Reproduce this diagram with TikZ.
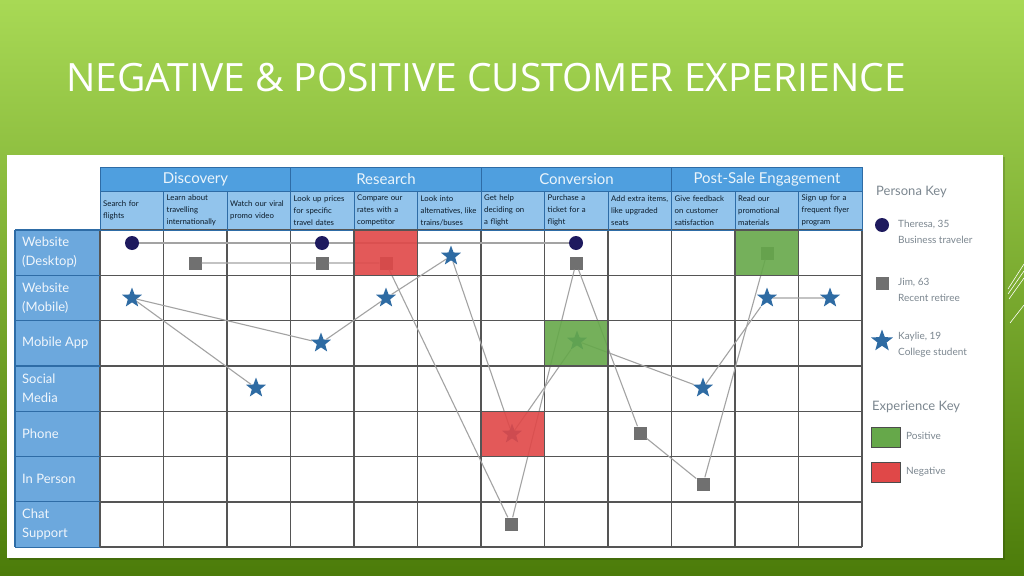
\documentclass[tikz,border=0pt]{standalone}
\usepackage{fontspec}
\setmainfont{Lato}
\newfontfamily\titlefont{Open Sans}
\usetikzlibrary{shapes.geometric}

\definecolor{bgtop}{HTML}{A8D955}
\definecolor{bgbot}{HTML}{4C7C0A}
\definecolor{phaseblue}{HTML}{4F9FDF}
\definecolor{stepblue}{HTML}{92C4EC}
\definecolor{rowblue}{HTML}{6CA8DD}
\definecolor{edgeblue}{HTML}{2E6CA6}
\definecolor{gridgray}{HTML}{555555}
\definecolor{negred}{HTML}{E04848}
\definecolor{posgreen}{HTML}{66A84A}
\definecolor{navy}{HTML}{1E1A5E}
\definecolor{jimgray}{HTML}{707070}
\definecolor{starblue}{HTML}{2E6BA3}
\definecolor{keygray}{HTML}{7C8790}
\definecolor{trailgray}{HTML}{A3A3A3}

\begin{document}
\begin{tikzpicture}[
  x=1pt, y=-1pt,
  font=\fontsize{8}{10}\selectfont,
  % ---- Header styles ----
  phase/.style={font=\fontsize{15}{15}\selectfont, text=white!88!phaseblue, inner sep=0},
  stepcell/.style={anchor=west, align=left, text width=60pt, inner sep=0,
                   font=\fontsize{7.8}{12}\selectfont, text=black!75!edgeblue},
  chan/.style={anchor=west, align=left, inner sep=0,
               font=\fontsize{13}{19}\selectfont, text=white!90!rowblue},
  % ---- Persona markers ----
  theresa/.style={circle, fill=navy, minimum size=14pt, inner sep=0},
  jim/.style={rectangle, fill=jimgray, minimum size=13pt, inner sep=0},
  kaylie/.style={star, star points=5, star point ratio=2.4, fill=starblue,
                 minimum size=21pt, inner sep=0},
  % ---- Lines ----
  trail/.style={draw=trailgray, line width=1.1pt},
  gridline/.style={draw=gridgray, line width=1.4pt},
  % ---- Experience overlays ----
  badcell/.style={fill=negred, fill opacity=0.9, draw=gridgray, line width=1.4pt},
  goodcell/.style={fill=posgreen, fill opacity=0.9, draw=gridgray, line width=1.4pt},
  % ---- Key ----
  keyhead/.style={anchor=west, inner sep=0, text=keygray, font=\fontsize{13}{13}\selectfont},
  keytext/.style={anchor=west, align=left, inner sep=0, text=keygray,
                  font=\fontsize{10}{16}\selectfont}
]

% ===== Slide background =====
\shade[top color=bgtop, bottom color=bgbot] (0,0) rectangle (1024,575);
\useasboundingbox (0,0) rectangle (1024,575);
\draw[white, line width=0.6pt] (1008,289) -- (1024,264);
\draw[white, line width=0.6pt] (1008,294) -- (1024,271);
\draw[white, line width=0.6pt] (1009,299) -- (1024,278);
\draw[white, line width=0.6pt] (1010,323) -- (1024,305);

\node[anchor=base west, inner sep=0, text=white, font=\titlefont\fontsize{39}{39}\selectfont]
  (title) at (66,92) {NEGATIVE \& POSITIVE CUSTOMER EXPERIENCE};

% ===== White panel =====
\fill[black, opacity=0.15] (9,157) rectangle (1005,560);
\fill[white] (7,155) rectangle (1003,558);

% ===== Table header and channel column =====
\fill[phaseblue] (100,167) rectangle (862,191);
\fill[stepblue] (100,191) rectangle (862,230);
\fill[rowblue] (15,230) rectangle (100,547);

% grid (columns 63.5 wide, rows 45.3 high)
\foreach \i in {0,...,12}
  \draw[gridline] ({100+63.5*\i},230) -- ({100+63.5*\i},547);
\foreach \j in {0,...,7}
  \draw[gridline] (100,{230+45.3*\j}) -- (862,{230+45.3*\j});
\foreach \j in {0,...,7}
  \draw[edgeblue, line width=1.2pt] (15,{230+45.3*\j}) -- (100,{230+45.3*\j});
\draw[edgeblue, line width=1.2pt] (15,230) -- (15,547);

\draw[edgeblue, line width=1pt] (100,167) rectangle (862,230);
\draw[edgeblue, line width=1pt] (100,191) -- (862,191);
\foreach \x in {290.5,481,671.5}
  \draw[edgeblue, line width=1pt] (\x,167) -- (\x,230);
\foreach \i in {1,...,11}
  \draw[edgeblue, line width=0.8pt] ({100+63.5*\i},191) -- ({100+63.5*\i},230);

% Phases
\node[phase] (disc)  at (195.5,179) {Discovery};
\node[phase] (res)   at (386,179)   {Research};
\node[phase] (conv)  at (576.5,179) {Conversion};
\node[phase] (post)  at (767,179)   {Post-Sale Engagement};

% Steps
\node[stepcell] (s1)  at (103,210.5)   {Search for\\flights};
\node[stepcell] (s2)  at (166.5,210.5) {Learn about\\travelling\\internationally};
\node[stepcell] (s3)  at (230,210.5)   {Watch our viral\\promo video};
\node[stepcell] (s4)  at (293.5,210.5) {Look up prices\\for specific\\travel dates};
\node[stepcell] (s5)  at (357,210.5)   {Compare our\\rates with a\\competitor};
\node[stepcell] (s6)  at (420.5,210.5) {Look into\\alternatives, like\\trains/buses};
\node[stepcell] (s7)  at (484,210.5)   {Get help\\deciding on\\a flight};
\node[stepcell] (s8)  at (547.5,210.5) {Purchase a\\ticket for a\\flight};
\node[stepcell] (s9)  at (611,210.5)   {Add extra items,\\like upgraded\\seats};
\node[stepcell] (s10) at (674.5,210.5) {Give feedback\\on customer\\satisfaction};
\node[stepcell] (s11) at (738,210.5)   {Read our\\promotional\\materials};
\node[stepcell] (s12) at (801.5,210.5) {Sign up for a\\frequent flyer\\program};

% Channels
\node[chan] (desk)   at (22,252.6) {Website\\(Desktop)};
\node[chan] (mob)    at (22,298)   {Website\\(Mobile)};
\node[chan] (app)    at (22,343.3) {Mobile App};
\node[chan] (social) at (22,388.6) {Social\\Media};
\node[chan] (phone)  at (22,433.9) {Phone};
\node[chan] (person) at (22,479.2) {In Person};
\node[chan] (chat)   at (22,524.5) {Chat\\Support};

% ===== Persona journeys =====
% Theresa
\node[theresa] (th1) at (132,243) {};
\node[theresa] (th2) at (322,243) {};
\node[theresa] (th3) at (576,243) {};
% Jim
\node[jim] (jim1) at (195,263) {};
\node[jim] (jim2) at (322,263) {};
\node[jim] (jim3) at (386,263) {};
\node[jim] (jim4) at (511,524) {};
\node[jim] (jim5) at (576,263) {};
\node[jim] (jim6) at (640,433) {};
\node[jim] (jim7) at (703,484) {};
\node[jim] (jim8) at (767,253) {};
% Kaylie
\node[kaylie] (ky1)  at (132,298) {};
\node[kaylie] (ky2)  at (256,388) {};
\node[kaylie] (ky3)  at (321,343) {};
\node[kaylie] (ky4)  at (386,298) {};
\node[kaylie] (ky5)  at (451,256) {};
\node[kaylie] (ky6)  at (512,434) {};
\node[kaylie] (ky7)  at (577,341) {};
\node[kaylie] (ky8)  at (703,388) {};
\node[kaylie] (ky9)  at (767,298) {};
\node[kaylie] (ky10) at (830,298) {};

\draw[trail] (th1) -- (th2) -- (th3);
\draw[trail] (jim1) -- (jim2) -- (jim3) -- (jim4) -- (jim5) -- (jim6) -- (jim7) -- (jim8);
\draw[trail] (ky2) -- (ky1) -- (ky3) -- (ky4) -- (ky5) -- (ky6) -- (ky7) -- (ky8) -- (ky9) -- (ky10);

% ===== Experience cells (over the markers) =====
\path[badcell] (354,230) rectangle (417.5,275.3);
\path[badcell] (481,411.2) rectangle (544.5,456.5);
\path[goodcell] (544.5,320.6) rectangle (608,365.9);
\path[goodcell] (735,230) rectangle (798.5,275.3);

% ===== Keys =====
\node[keyhead] (pkey) at (876,192) {Persona Key};
\node[theresa] (kth) at (882,225) {};
\node[keytext] (kthtxt) at (898,232) {Theresa, 35\\Business traveler};
\node[jim] (kjim) at (882,283) {};
\node[keytext] (kjimtxt) at (898,290) {Jim, 63\\Recent retiree};
\node[kaylie, minimum size=23pt] (kky) at (882,341) {};
\node[keytext] (kkytxt) at (898,345) {Kaylie, 19\\College student};

\node[keyhead] (ekey) at (872,407) {Experience Key};
\node[draw=black!70, fill=posgreen, minimum width=29pt, minimum height=20pt, inner sep=0]
  (kpos) at (885.5,437) {};
\node[keytext] (kpostxt) at (906,436) {Positive};
\node[draw=black!70, fill=negred, minimum width=29pt, minimum height=20pt, inner sep=0]
  (kneg) at (885.5,472.5) {};
\node[keytext] (knegtxt) at (906,472) {Negative};

\end{tikzpicture}
\end{document}
